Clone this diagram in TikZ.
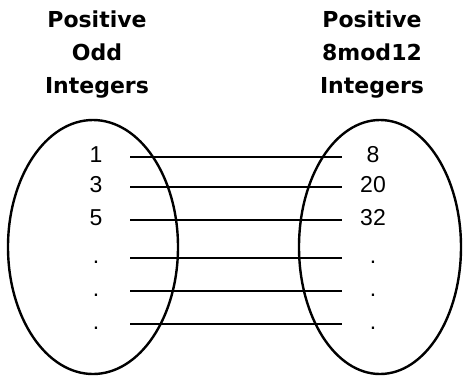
\documentclass[tikz,border=0pt]{standalone}
\usepackage{fontspec}
\newfontfamily\headfont{DejaVu Sans}
\newfontfamily\numfont{Liberation Sans}

\begin{document}
\begin{tikzpicture}[x=1pt,y=-1pt,
  heading/.style={align=center, anchor=north, inner sep=0pt,
    font=\headfont\bfseries\fontsize{22}{33}\selectfont},
  elem/.style={inner sep=0pt, text height=17pt, text depth=6pt,
    font=\numfont\fontsize{23}{26}\selectfont},
  pairline/.style={line width=1.2pt, shorten <=34pt, shorten >=31pt}]
  \useasboundingbox (0,0) rectangle (463,376);

  % Titulos dos dois conjuntos.
  \node[heading] (titodd) at (97,11) {Positive\\Odd\\Integers};
  \node[heading] (titmod) at (372,11) {Positive\\8mod12\\Integers};

  % Os dois conjuntos como elipses.
  \draw[line width=2.4pt] (93,247) ellipse [x radius=85, y radius=127];
  \draw[line width=2.4pt] (380,247) ellipse [x radius=81, y radius=127];

  % Elementos correspondentes e as ligacoes entre eles.
  \foreach \i/\y/\a/\b in {1/157/1/8, 2/187/3/20, 3/220/5/32,
                           4/258/./., 5/291/./., 6/324/./.} {
    \node[elem] (odd\i) at (96,\y) {\a};
    \node[elem] (mod\i) at (373,\y) {\b};
    \draw[pairline] (odd\i.center) -- (mod\i.center);
  }
\end{tikzpicture}
\end{document}
